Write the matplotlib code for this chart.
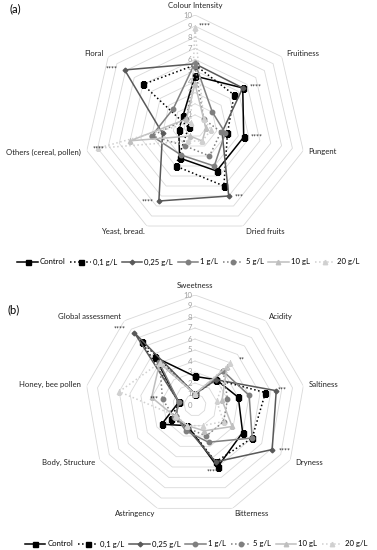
"""Radar charts of sensory attributes (a) aroma/colour and (b) taste."""
import matplotlib
matplotlib.use("Agg")
import matplotlib.pyplot as plt
import matplotlib.transforms as mtransforms
import numpy as np

plt.rcParams["font.family"] = ["Lato", "DejaVu Sans"]

# ── Data ──────────────────────────────────────────────────────────────────────
series_names = ["Control", "0,1 g/L", "0,25 g/L", "1 g/L", "5 g/L", "10 gL", "20 g/L"]

cats_a = ["Colour Intensity", "Fruitiness", "Pungent", "Dried fruits",
          "Yeast, bread.", "Others (cereal, pollen)", "Floral"]
vals_a_control = [4.5, 5.5, 4.5, 4.5, 3.2, 1.5, 1.4]
vals_a_01      = [5.5, 4.5, 3.0, 6.0, 4.0, 0.6, 6.0]
vals_a_025     = [5.6, 5.5, 2.5, 7.0, 7.5, 3.0, 8.1]
vals_a_1       = [5.7, 2.0, 2.8, 4.0, 2.9, 4.0, 2.5]
vals_a_5       = [5.4, 1.0, 2.4, 3.0, 2.0, 4.0, 1.0]
vals_a_10      = [3.8, 1.0, 1.0, 1.5, 1.0, 6.0, 1.0]
vals_a_20      = [8.8, 1.0, 1.5, 1.5, 1.5, 9.0, 0.5]
stars_a        = ["****", "****", "****", "***", "****", "****", "****"]

cats_b = ["Sweetness", "Acidity", "Saltiness", "Dryness", "Bitterness",
          "Astringency", "Body, Structure", "Honey, bee pollen", "Global assessment"]
vals_b_control = [2.6, 3.0, 4.0, 5.0, 6.0, 2.0, 3.5, 1.5, 5.7]
vals_b_01      = [1.0, 3.0, 6.5, 6.0, 5.5, 2.0, 2.5, 1.5, 7.5]
vals_b_025     = [1.0, 3.0, 7.5, 8.1, 5.5, 2.2, 2.0, 1.5, 8.6]
vals_b_1       = [1.0, 4.0, 5.0, 6.0, 3.6, 2.5, 2.0, 1.5, 5.1]
vals_b_5       = [1.0, 4.0, 3.0, 3.0, 3.0, 2.2, 2.2, 3.0, 5.0]
vals_b_10      = [1.0, 4.5, 2.5, 3.9, 2.5, 2.0, 2.1, 4.0, 5.0]
vals_b_20      = [1.0, 5.0, 2.0, 3.0, 2.0, 2.0, 2.0, 7.0, 5.0]
stars_b        = ["", "**", "***", "****", "****", "", "", "***", "****"]

# ── Styles ────────────────────────────────────────────────────────────────────
STYLES = [
    dict(color="#000000", ls="-",  marker="s", ms=3.6, lw=1.1),
    dict(color="#000000", ls=":",  marker="s", ms=3.6, lw=1.1),
    dict(color="#595959", ls="-",  marker="D", ms=2.4, lw=1.1),
    dict(color="#7f7f7f", ls="-",  marker="o", ms=3.2, lw=1.1),
    dict(color="#7f7f7f", ls=":",  marker="o", ms=3.2, lw=1.1),
    dict(color="#bfbfbf", ls="-",  marker="^", ms=3.2, lw=1.1),
    dict(color="#d0d0d0", ls=":",  marker="^", ms=3.2, lw=1.1),
]
GRID = "#d9d9d9"
FS = 5.6

W, H = 377, 550
fig = plt.figure(figsize=(W / 100, H / 100), dpi=100)


def radar(rect, cats, series, stars, star_pos):
    ax = fig.add_axes(rect, projection="polar")
    ax.set_theta_zero_location("N")
    ax.set_theta_direction(-1)
    ax.set_ylim(0, 10)
    ax.axis("off")
    n = len(cats)
    th = np.linspace(0, 2 * np.pi, n, endpoint=False)
    thc = np.append(th, th[0])
    # polygon gridlines
    for r in range(1, 11):
        ax.plot(thc, [r] * (n + 1), color=GRID, lw=0.6, zorder=1)
    # value labels on the vertical axis
    off = mtransforms.offset_copy(ax.transData, fig=fig, x=-3, y=0, units="dots")
    for r in range(0, 11):
        ax.text(0, r, str(r), transform=off, ha="right", va="center",
                fontsize=FS, color="#a0a0a0", zorder=2)
    # series
    for vals, st in zip(series, STYLES):
        v = np.append(vals, vals[0])
        ax.plot(thc, v, color=st["color"], ls=st["ls"], lw=st["lw"],
                marker=st["marker"], ms=st["ms"], zorder=3)
    # category labels
    for t, lab in zip(th, cats):
        s, c = np.sin(t), np.cos(t)
        if c > 0.97:
            ha, va = "center", "bottom"
        elif c < -0.97:
            ha, va = "center", "top"
        else:
            ha, va = ("left" if s > 0 else "right"), "center"
        ax.text(t, 10.5, lab, ha=ha, va=va, fontsize=FS, color="#222222")
    # significance marks next to points
    for t, mark, (dr, dx) in zip(th, stars, star_pos):
        if not mark:
            continue
        o = mtransforms.offset_copy(ax.transData, fig=fig, x=dx, y=0, units="dots")
        ax.text(t, dr, mark, transform=o, ha="left", va="center",
                fontsize=5, color="#222222")
    return ax


# (a)  centre (195,126) px, radius 111 px
ax_a = radar([(195 - 111) / W, 1 - (126 + 111) / H, 222 / W, 222 / H],
             cats_a,
             [vals_a_control, vals_a_01, vals_a_025, vals_a_1, vals_a_5,
              vals_a_10, vals_a_20],
             stars_a,
             [(9.0, 4), (5.6, 6), (4.6, 6), (7.1, 5), (7.6, -17), (9.2, -3), (8.3, -17)])

# (b)  centre (195,405) px, radius 110 px
ax_b = radar([(195 - 110) / W, 1 - (405 + 110) / H, 220 / W, 220 / H],
             cats_b,
             [vals_b_control, vals_b_01, vals_b_025, vals_b_1, vals_b_5,
              vals_b_10, vals_b_20],
             stars_b,
             [(0, 0), (5.3, 6), (8.0, -4), (8.3, 4), (6.5, -13), (0, 0), (0, 0),
              (3.3, -10), (9.0, -18)])

fig.text(10 / W, 1 - 9 / H, "(a)", fontsize=8, ha="left", va="center")
fig.text(8 / W, 1 - 310 / H, "(b)", fontsize=8, ha="left", va="center")

# legends
handles = ax_a.lines[10:17]
for y in (262, 544):
    fig.legend(handles, series_names, loc="center",
               bbox_to_anchor=(0.5 if y == 262 else 0.52, 1 - y / H),
               ncol=7, frameon=False, fontsize=FS, handlelength=2.6,
               handletextpad=0.3, columnspacing=0.6, borderpad=0)

fig.savefig("out.png", dpi=100, facecolor="white")
